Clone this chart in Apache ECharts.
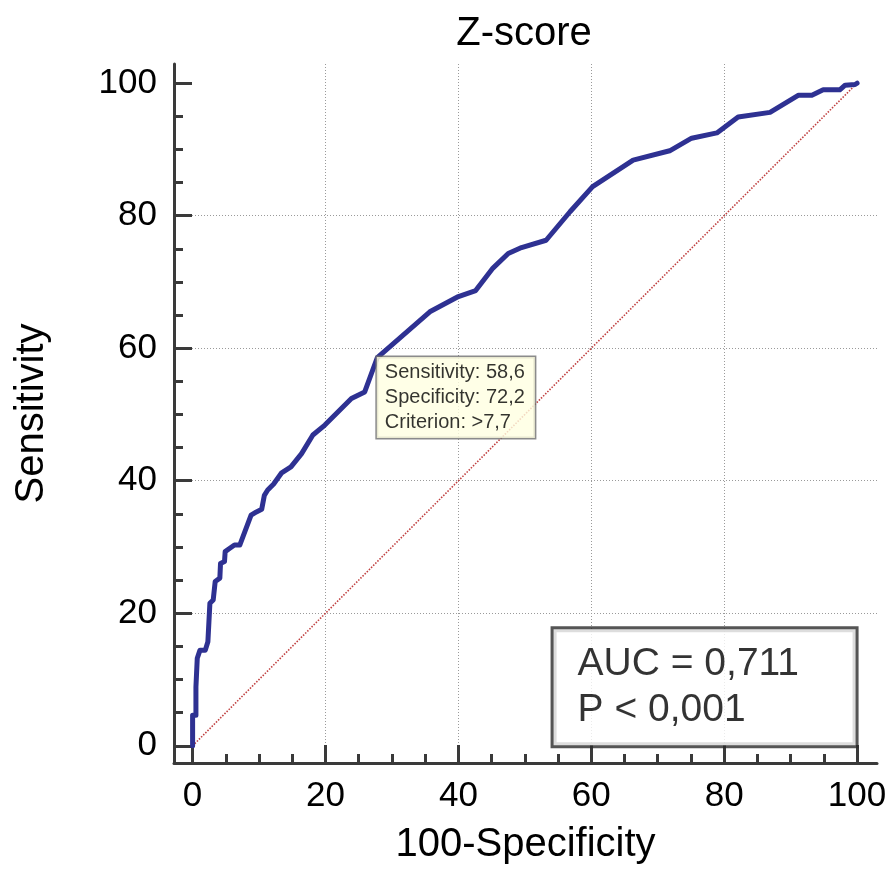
<!DOCTYPE html>
<html>
<head>
<meta charset="utf-8">
<script src="https://cdn.jsdelivr.net/npm/echarts@6.0.0/dist/echarts.min.js"></script>
<style>
html,body{margin:0;padding:0;background:#fff;}
#chart{width:892px;height:876px;}
</style>
</head>
<body>
<div id="chart"></div>
<script>
// ROC curve points: [100-Specificity, Sensitivity]
var rocCurve = [
  [0,0],[0,4.6],[0.5,4.6],[0.5,8.9],[0.7,8.9],[0.7,13.2],[1.1,14.4],[1.9,14.4],
  [2.3,15.7],[2.6,21.5],[3.1,22],[3.4,22.3],[3.4,24.8],[4.1,25.3],[4.2,27.5],
  [4.8,27.8],[4.9,29.3],[5.6,29.8],[6.3,30.3],[7.1,30.3],[8.8,34.8],[9.6,35.3],
  [10.4,35.7],[10.8,37.8],[11.3,38.6],[12.2,39.5],[13.4,41.2],[14.8,42.1],
  [16.4,44.1],[18.1,46.9],[19.9,48.4],[23.9,52.4],[25.9,53.4],[27.8,58.6],
  [35.7,65.5],[40.0,67.8],[42.6,68.7],[45.2,72.1],[47.5,74.3],[49.5,75.2],
  [53.2,76.3],[56.8,80.6],[60.2,84.4],[66.3,88.4],[71.8,89.8],[75.1,91.7],
  [78.9,92.5],[82.1,94.9],[86.9,95.6],[91.2,98.2],[93.2,98.2],[94.9,99.0],
  [97.4,99.0],[98.2,99.7],[99.7,99.8],[100,100]
];
var diagonal = [[0,0],[100,100]];
var cutPoint = [27.8, 58.6];
var tipLines = ['Sensitivity: 58,6', 'Specificity: 72,2', 'Criterion: >7,7'];
var aucAnchor = [54.4, 17.5];
var aucLines = ['AUC = 0,711', 'P < 0,001'];
var majorTicks = [0, 20, 40, 60, 80, 100];
var minorTicks = [0, 5, 10, 15, 20, 25, 30, 35, 40, 45, 50, 55, 60, 65, 70, 75, 80, 85, 90, 95, 100];
var xRange = [-2.8, 103];
var yRange = [-2.6, 102.9];

var FONT = '"Liberation Sans", Arial, sans-serif';
var axisColor = '#3a3a3a';
var gridStyle = { color: '#9a9a9a', width: 1, type: [1, 2] };

function mainAxis(range, name, nameGap, isX) {
  return {
    type: 'value', min: range[0], max: range[1],
    position: isX ? 'bottom' : 'left',
    name: name, nameLocation: 'middle', nameGap: nameGap,
    nameTextStyle: { fontFamily: FONT, fontSize: 40, color: '#000' },
    axisLine: { show: true, onZero: false, lineStyle: { color: axisColor, width: 3 } },
    axisTick: { show: true, inside: true, length: 9, lineStyle: { color: axisColor, width: 3 }, customValues: minorTicks },
    axisLabel: { show: true, customValues: majorTicks, fontFamily: FONT, fontSize: 35, color: '#000', margin: isX ? 16 : 17 },
    splitLine: { show: false }
  };
}
function majorAxis(range, isX) {
  return {
    type: 'value', min: range[0], max: range[1],
    position: isX ? 'bottom' : 'left',
    axisLine: { show: false, onZero: false },
    axisTick: { show: true, inside: true, length: 18, lineStyle: { color: axisColor, width: 3 }, customValues: majorTicks },
    axisLabel: { show: false },
    splitLine: { show: true, showMinLine: false, showMaxLine: false, lineStyle: gridStyle }
  };
}

var chart = echarts.init(document.getElementById('chart'), null, { renderer: 'canvas' });
chart.setOption({
  animation: false,
  backgroundColor: '#fff',
  title: {
    text: 'Z-score', left: 519, top: 9, textAlign: 'center',
    textStyle: { fontFamily: FONT, fontSize: 40, fontWeight: 'normal', color: '#000' }
  },
  grid: { left: 174, right: 15, top: 64, bottom: 113, containLabel: false },
  xAxis: [mainAxis(xRange, '100-Specificity', 62, true), majorAxis(xRange, true)],
  yAxis: [mainAxis(yRange, 'Sensitivity', 122, false), majorAxis(yRange, false)],
  series: [
    {
      type: 'line', data: diagonal, xAxisIndex: 0, yAxisIndex: 0,
      symbol: 'none', silent: true, z: 2,
      lineStyle: { color: '#c04040', width: 1.6, type: [1.5, 1.5] }
    },
    {
      type: 'line', data: rocCurve, xAxisIndex: 0, yAxisIndex: 0,
      symbol: 'none', silent: true, z: 3, clip: false,
      lineStyle: { color: '#2e3192', width: 5, join: 'round', cap: 'round' }
    },
    {
      type: 'scatter', data: [cutPoint], xAxisIndex: 0, yAxisIndex: 0,
      symbolSize: 1, silent: true, z: 5,
      itemStyle: { color: 'transparent' },
      label: {
        show: true, position: [0, 0], align: 'left', verticalAlign: 'top',
        formatter: tipLines.join('\n'),
        fontFamily: FONT, fontSize: 20, color: '#000', lineHeight: 25,
        backgroundColor: '#ffffe1', borderColor: '#6e6e6e', borderWidth: 1.5,
        padding: [3, 10, 3, 8]
      }
    },
    {
      type: 'scatter', data: [aucAnchor], xAxisIndex: 0, yAxisIndex: 0,
      symbolSize: 1, silent: true, z: 5,
      itemStyle: { color: 'transparent' },
      label: {
        show: true, position: [0, 0], align: 'left', verticalAlign: 'top',
        formatter: aucLines.join('\n'),
        fontFamily: FONT, fontSize: 39, color: '#000', lineHeight: 46,
        width: 254,
        backgroundColor: '#fff', borderColor: '#2a2a2a', borderWidth: 3,
        padding: [12, 24, 12, 24]
      }
    }
  ]
});
</script>
</body>
</html>
